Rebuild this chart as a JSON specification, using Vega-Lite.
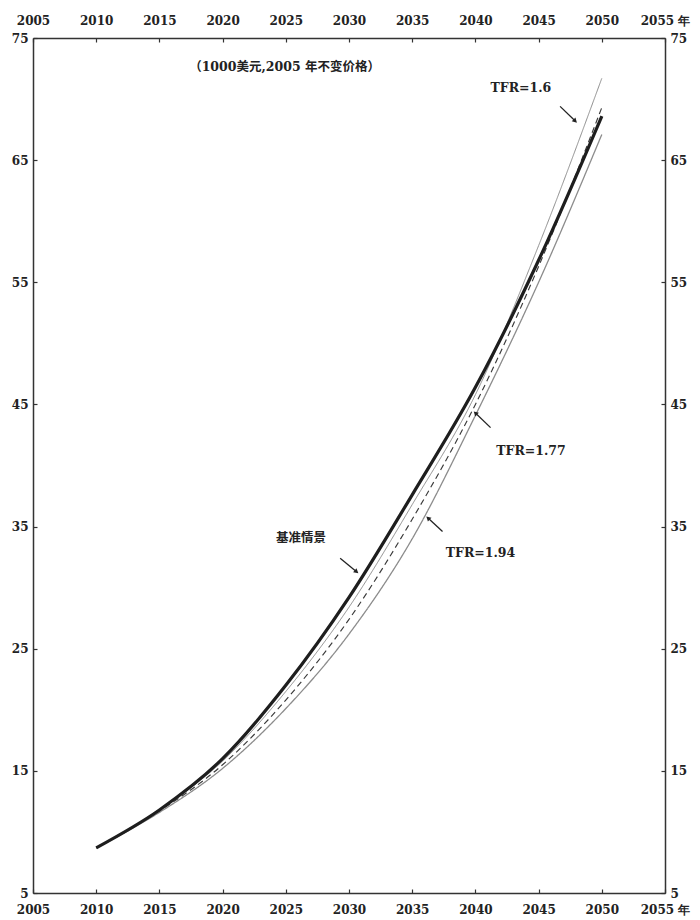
{
 "$schema": "https://vega.github.io/schema/vega-lite/v6.json",
 "width": 632,
 "height": 855,
 "autosize": {"type": "none"},
 "padding": {"left": 33, "top": 38, "right": 35, "bottom": 27},
 "background": "white",
 "config": {
  "view": {"stroke": null},
  "axis": {
   "domainColor": "#333", "domainWidth": 1.5,
   "tickColor": "#333", "tickSize": -4, "tickWidth": 1.2,
   "labelFont": "DejaVu Serif", "labelFontSize": 12, "labelFontWeight": "bold",
   "labelColor": "#222", "grid": false, "title": null, "labelPadding": 9, "labelFlush": false
  }
 },
 "datasets": {
  "series": [
   {"scenario": "基准情景", "year": 2010, "value": 8.7},
   {"scenario": "基准情景", "year": 2015, "value": 11.8},
   {"scenario": "基准情景", "year": 2020, "value": 16.0},
   {"scenario": "基准情景", "year": 2025, "value": 22.0},
   {"scenario": "基准情景", "year": 2030, "value": 29.2},
   {"scenario": "基准情景", "year": 2035, "value": 37.6},
   {"scenario": "基准情景", "year": 2040, "value": 46.4},
   {"scenario": "基准情景", "year": 2045, "value": 56.8},
   {"scenario": "基准情景", "year": 2050, "value": 68.6},
   {"scenario": "TFR=1.6", "year": 2010, "value": 8.7},
   {"scenario": "TFR=1.6", "year": 2015, "value": 11.8},
   {"scenario": "TFR=1.6", "year": 2020, "value": 15.8},
   {"scenario": "TFR=1.6", "year": 2025, "value": 21.5},
   {"scenario": "TFR=1.6", "year": 2030, "value": 28.4},
   {"scenario": "TFR=1.6", "year": 2035, "value": 36.8},
   {"scenario": "TFR=1.6", "year": 2040, "value": 45.8},
   {"scenario": "TFR=1.6", "year": 2045, "value": 58.0},
   {"scenario": "TFR=1.6", "year": 2050, "value": 71.7},
   {"scenario": "TFR=1.77", "year": 2010, "value": 8.7},
   {"scenario": "TFR=1.77", "year": 2015, "value": 11.7},
   {"scenario": "TFR=1.77", "year": 2020, "value": 15.5},
   {"scenario": "TFR=1.77", "year": 2025, "value": 20.8},
   {"scenario": "TFR=1.77", "year": 2030, "value": 27.4},
   {"scenario": "TFR=1.77", "year": 2035, "value": 35.6},
   {"scenario": "TFR=1.77", "year": 2040, "value": 45.0},
   {"scenario": "TFR=1.77", "year": 2045, "value": 56.3},
   {"scenario": "TFR=1.77", "year": 2050, "value": 69.3},
   {"scenario": "TFR=1.94", "year": 2010, "value": 8.7},
   {"scenario": "TFR=1.94", "year": 2015, "value": 11.6},
   {"scenario": "TFR=1.94", "year": 2020, "value": 15.2},
   {"scenario": "TFR=1.94", "year": 2025, "value": 20.1},
   {"scenario": "TFR=1.94", "year": 2030, "value": 26.2},
   {"scenario": "TFR=1.94", "year": 2035, "value": 34.0},
   {"scenario": "TFR=1.94", "year": 2040, "value": 44.1},
   {"scenario": "TFR=1.94", "year": 2045, "value": 55.0},
   {"scenario": "TFR=1.94", "year": 2050, "value": 67.1}
  ],
  "labels": [
   {"text": "（1000美元,2005 年不变价格）", "year": 2024.9, "value": 72.6},
   {"text": "TFR=1.6", "year": 2043.6, "value": 70.9},
   {"text": "TFR=1.77", "year": 2044.4, "value": 41.2},
   {"text": "TFR=1.94", "year": 2040.4, "value": 32.8},
   {"text": "基准情景", "year": 2026.2, "value": 34.1}
  ],
  "arrows": [
   {"name": "TFR=1.6", "x1": 2046.7, "y1": 69.4, "x2": 2047.9, "y2": 68.2},
   {"name": "TFR=1.77", "x1": 2041.2, "y1": 43.1, "x2": 2040.0, "y2": 44.3},
   {"name": "TFR=1.94", "x1": 2037.4, "y1": 34.6, "x2": 2036.25, "y2": 35.7},
   {"name": "基准情景", "x1": 2029.3, "y1": 32.4, "x2": 2030.6, "y2": 31.3}
  ]
 },
 "layer": [
  {
   "data": {"name": "series"},
   "transform": [{"filter": "datum.scenario != '基准情景'"}],
   "mark": {"type": "line", "interpolate": "monotone"},
   "encoding": {
    "x": {"field": "year", "type": "quantitative",
     "scale": {"domain": [2005, 2055], "nice": false, "zero": false},
     "axis": {"orient": "bottom", "values": [2005, 2010, 2015, 2020, 2025, 2030, 2035, 2040, 2045, 2050, 2055], "format": "d", "labelExpr": "datum.value == 2055 ? '2055 年' : datum.label", "labelPadding": 15}},
    "y": {"field": "value", "type": "quantitative",
     "scale": {"domain": [5, 75], "nice": false, "zero": false},
     "axis": {"orient": "left", "values": [5, 15, 25, 35, 45, 55, 65, 75]}},
    "detail": {"field": "scenario"},
    "color": {"field": "scenario", "type": "nominal", "legend": null,
     "scale": {"domain": ["TFR=1.6", "TFR=1.77", "TFR=1.94"], "range": ["#8c8c8c", "#3a3a3a", "#8c8c8c"]}},
    "strokeWidth": {"field": "scenario", "type": "nominal", "legend": null,
     "scale": {"domain": ["TFR=1.6", "TFR=1.77", "TFR=1.94"], "range": [1, 1.3, 1]}},
    "strokeDash": {"field": "scenario", "type": "nominal", "legend": null,
     "scale": {"domain": ["TFR=1.6", "TFR=1.77", "TFR=1.94"], "range": [[1, 0], [6, 4], [1, 0]]}}
   }
  },
  {
   "data": {"name": "series"},
   "transform": [{"filter": "datum.scenario == '基准情景'"}],
   "mark": {"type": "line", "interpolate": "monotone", "color": "#1e1e1e", "strokeWidth": 3.2},
   "encoding": {
    "x": {"field": "year", "type": "quantitative", "axis": null},
    "y": {"field": "value", "type": "quantitative", "axis": null}
   }
  },
  {
   "data": {"name": "arrows"},
   "mark": {"type": "rule", "color": "#222", "strokeWidth": 1.3},
   "encoding": {
    "x": {"field": "x1", "type": "quantitative", "axis": null},
    "y": {"field": "y1", "type": "quantitative", "axis": null},
    "x2": {"field": "x2"},
    "y2": {"field": "y2"}
   }
  },
  {
   "data": {"name": "arrows"},
   "transform": [{"calculate": "atan2((datum.x2 - datum.x1) * 12.64, (datum.y2 - datum.y1) * 12.21) * 180 / PI", "as": "ang"}],
   "mark": {"type": "point", "shape": "triangle-up", "filled": true, "color": "#222", "size": 28, "opacity": 1},
   "encoding": {
    "x": {"field": "x2", "type": "quantitative", "axis": null},
    "y": {"field": "y2", "type": "quantitative", "axis": null},
    "angle": {"field": "ang", "type": "quantitative", "scale": null}
   }
  },
  {
   "data": {"name": "labels"},
   "mark": {"type": "text", "font": "DejaVu Serif, Noto Sans CJK SC", "fontWeight": "bold", "fontSize": 12.5, "color": "#222"},
   "encoding": {
    "x": {"field": "year", "type": "quantitative",
     "axis": {"orient": "top", "values": [2005, 2010, 2015, 2020, 2025, 2030, 2035, 2040, 2045, 2050, 2055], "format": "d", "labelExpr": "datum.value == 2055 ? '2055 年' : datum.label", "labelPadding": 15}},
    "y": {"field": "value", "type": "quantitative",
     "axis": {"orient": "right", "values": [5, 15, 25, 35, 45, 55, 65, 75]}},
    "text": {"field": "text"}
   }
  }
 ],
 "resolve": {"axis": {"x": "independent", "y": "independent"}}
}
